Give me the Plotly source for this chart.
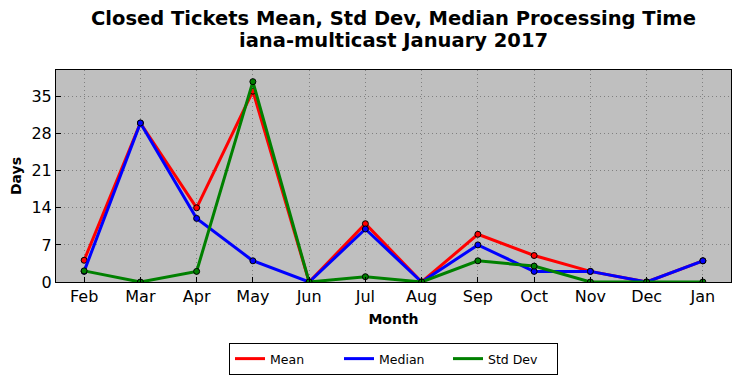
import plotly.graph_objects as go

months = ["Feb", "Mar", "Apr", "May", "Jun", "Jul", "Aug", "Sep", "Oct", "Nov", "Dec", "Jan"]
mean_vals = [4.1, 30, 14, 36, 0, 11, 0, 9, 5, 2, 0, 4]
median_vals = [2, 30, 12, 4, 0, 10, 0, 7, 2, 2, 0, 4]
std_vals = [2.1, 0, 2, 37.8, 0, 1, 0, 4, 3, 0, 0, 0]
y_ticks = [0, 7, 14, 21, 28, 35]
title_lines = ["Closed Tickets Mean, Std Dev, Median Processing Time", "iana-multicast January 2017"]

series = [("Mean", mean_vals, "#ff0000"), ("Median", median_vals, "#0000ff"), ("Std Dev", std_vals, "#008000")]

fig = go.Figure()
xs = list(range(len(months)))
for name, vals, col in series:
    fig.add_trace(go.Scatter(x=xs, y=vals, mode="lines", name=name,
                             line=dict(color=col, width=3)))
    fig.add_trace(go.Scatter(x=xs, y=vals, mode="markers", showlegend=False, hoverinfo="skip",
                             marker=dict(color=col, size=6, line=dict(color="black", width=1))))

font = "DejaVu Sans"
fig.update_layout(
    width=741, height=378,
    margin=dict(l=56, r=10, t=70, b=96),
    paper_bgcolor="white", plot_bgcolor="#bfbfbf",
    font=dict(family=font, color="black", size=14),
    legend=dict(orientation="h", x=0.5, xanchor="center", yref="container", y=35 / 378, yanchor="top",
                bordercolor="black", borderwidth=1, font=dict(size=12.5),
                entrywidth=64, entrywidthmode="pixels", tracegroupgap=0),
    showlegend=True,
)
for txt, yy in zip(title_lines, [1.2406, 1.1368]):
    fig.add_annotation(text="<b>" + txt + "</b>", xref="paper", yref="paper", x=0.5,
                       y=yy, xanchor="center", yanchor="middle", showarrow=False,
                       font=dict(size=19.5, family=font))
grid = dict(showgrid=True, gridcolor="#808080", griddash="1px,3px", gridwidth=1,
            showline=True, linecolor="black", linewidth=1, mirror=True,
            ticks="inside", ticklen=5, tickcolor="black", zeroline=False, automargin=False)
fig.update_xaxes(range=[-0.5, 11.5], tickmode="array", tickvals=xs, ticktext=months, **grid,
                 title=dict(text="<b>Month</b>", font=dict(size=14), standoff=8), tickfont=dict(size=16))
fig.update_yaxes(range=[0, 40], tickmode="array", tickvals=y_ticks, **grid,
                 title=dict(text="<b>Days</b>", font=dict(size=14), standoff=6), tickfont=dict(size=16))
fig.write_html("out.html", config={"displayModeBar": False},
               post_script="document.body.style.margin='0';")
